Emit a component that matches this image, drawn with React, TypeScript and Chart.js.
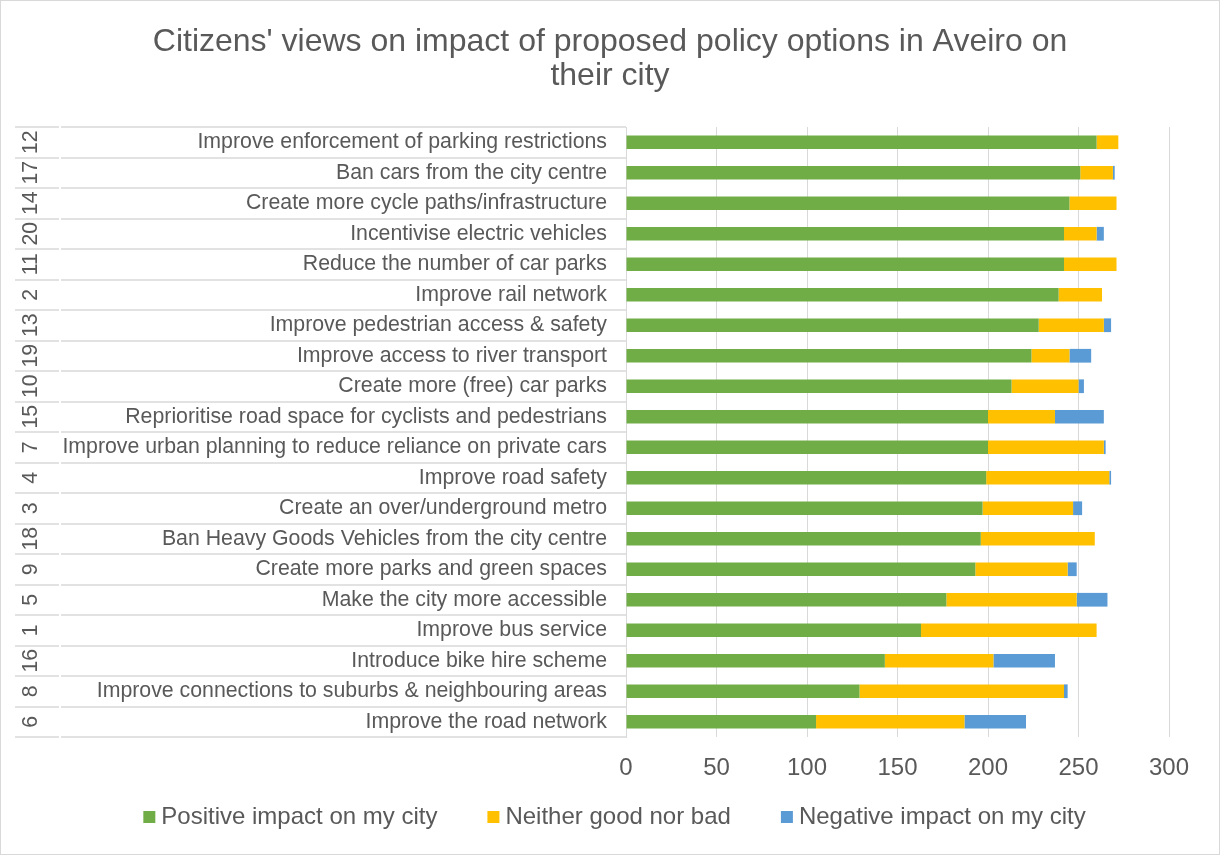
import React, { useEffect, useRef } from "react";
import { Chart, registerables } from "chart.js";

Chart.register(...registerables);

const FONT = "'Liberation Sans', Arial, Helvetica, sans-serif";
const TEXT = "#595959";
const LINE = "#D9D9D9";

const titleLines = [
  "Citizens' views on impact of proposed policy options in Aveiro on",
  "their city",
];

const ids = ["12", "17", "14", "20", "11", "2", "13", "19", "10", "15", "7", "4", "3", "18", "9", "5", "1", "16", "8", "6"];

const policies = [
  "Improve enforcement of parking restrictions",
  "Ban cars from the city centre",
  "Create more cycle paths/infrastructure",
  "Incentivise electric vehicles",
  "Reduce the number of car parks",
  "Improve rail network",
  "Improve pedestrian access & safety",
  "Improve access to river transport",
  "Create more (free) car parks",
  "Reprioritise road space for cyclists and pedestrians",
  "Improve urban planning to reduce reliance on private cars",
  "Improve road safety",
  "Create an over/underground metro",
  "Ban Heavy Goods Vehicles from the city centre",
  "Create more parks and green spaces",
  "Make the city more accessible",
  "Improve bus service",
  "Introduce bike hire scheme",
  "Improve connections to suburbs & neighbouring areas",
  "Improve the road network",
];

const seriesNames = ["Positive impact on my city", "Neither good nor bad", "Negative impact on my city"];
const seriesColors = ["#70AD47", "#FFC000", "#5B9BD5"];

const positive = [260, 251, 245, 242, 242, 239, 228, 224, 213, 200, 200, 199, 197, 196, 193, 177, 163, 143, 129, 105];
const neutral = [12, 18, 26, 18, 29, 24, 36, 21, 37, 37, 64, 68, 50, 63, 51, 72, 97, 60, 113, 82];
const negative = [0, 1, 0, 4, 0, 0, 4, 12, 3, 27, 1, 1, 5, 0, 5, 17, 0, 34, 2, 34];

const xMin = 0;
const xMax = 300;
const xStep = 50;

const multiLevelPlugin = {
  id: "multiLevel",
  afterDraw(chart: any) {
    const ctx = chart.ctx;
    const y = chart.scales.y;
    const area = chart.chartArea;
    ctx.save();
    // outer chart border
    ctx.strokeStyle = LINE;
    ctx.lineWidth = 1;
    ctx.strokeRect(0.5, 0.5, chart.width - 1, chart.height - 1);
    // category boundaries across the label area
    const n = ids.length;
    ctx.lineWidth = 1.5;
    for (let i = 0; i <= n; i++) {
      const py = Math.round(y.getPixelForValue(i - 0.5));
      ctx.beginPath();
      ctx.moveTo(15, py);
      ctx.lineTo(59, py);
      ctx.moveTo(61, py);
      ctx.lineTo(area.left, py);
      ctx.stroke();
    }
    // rotated outer-level labels
    ctx.fillStyle = TEXT;
    ctx.font = `21.3px ${FONT}`;
    ctx.textAlign = "center";
    ctx.textBaseline = "middle";
    for (let i = 0; i < n; i++) {
      const py = y.getPixelForValue(i);
      ctx.save();
      ctx.translate(31, py);
      ctx.rotate(-Math.PI / 2);
      ctx.fillText(ids[i], 0, 0);
      ctx.restore();
    }
    // legend
    ctx.font = `24px ${FONT}`;
    ctx.textAlign = "left";
    const box = 12;
    const gapText = 6;
    const gapItem = 50;
    const ds = chart.data.datasets;
    const widths = ds.map((d: any) => box + gapText + ctx.measureText(d.label).width);
    const total = widths.reduce((a: number, b: number) => a + b, 0) + gapItem * (ds.length - 1);
    let x = 614.5 - total / 2;
    const cy = 817;
    ds.forEach((d: any, i: number) => {
      ctx.fillStyle = d.backgroundColor;
      ctx.fillRect(x, cy - 6, box, box);
      ctx.fillStyle = TEXT;
      ctx.fillText(d.label, x + box + gapText, cy);
      x += widths[i] + gapItem;
    });
    ctx.restore();
  },
};

export default function App() {
  const canvasRef = useRef<HTMLCanvasElement | null>(null);

  useEffect(() => {
    document.body.style.margin = "0";
    document.body.style.background = "#ffffff";
    const canvas = canvasRef.current;
    if (!canvas) return;
    Chart.defaults.font.family = FONT;
    const chart = new Chart(canvas, {
      type: "bar",
      data: {
        labels: policies,
        datasets: [positive, neutral, negative].map((d, i) => ({
          label: seriesNames[i],
          data: d,
          backgroundColor: seriesColors[i],
          borderWidth: 0,
          barPercentage: 0.45,
          categoryPercentage: 1,
        })),
      },
      options: {
        indexAxis: "y",
        responsive: false,
        animation: false,
        layout: { padding: { left: 15, right: 15, top: 0, bottom: 0 } },
        plugins: {
          title: {
            display: true,
            text: titleLines,
            color: TEXT,
            font: { size: 32, weight: "normal", family: FONT, lineHeight: 34 / 32 },
            padding: { top: 25, bottom: 34 },
          },
          legend: { display: false },
          tooltip: { enabled: false },
        },
        scales: {
          x: {
            stacked: true,
            min: xMin,
            max: xMax,
            ticks: { stepSize: xStep, color: TEXT, font: { size: 24, family: FONT }, padding: 17 },
            grid: { color: LINE, drawTicks: false, lineWidth: 1 },
            border: { display: false },
            afterFit: (s: any) => {
              s.height = 118;
            },
          },
          y: {
            stacked: true,
            ticks: { color: TEXT, font: { size: 21.3, family: FONT }, padding: 19, autoSkip: false },
            grid: { display: false, drawTicks: false },
            border: { display: true, color: LINE, width: 1 },
            afterFit: (s: any) => {
              s.width = 611;
            },
          },
          yRight: {
            type: "category",
            labels: policies,
            position: "right",
            display: true,
            ticks: { display: false },
            grid: { display: false, drawTicks: false },
            border: { display: false },
            afterFit: (s: any) => {
              s.width = 36;
            },
          },
        },
      },
      plugins: [multiLevelPlugin],
    } as any);
    return () => chart.destroy();
  }, []);

  return (
    <div style={{ width: 1220, height: 855, background: "#fff" }}>
      <canvas ref={canvasRef} width={1220} height={855} />
    </div>
  );
}
